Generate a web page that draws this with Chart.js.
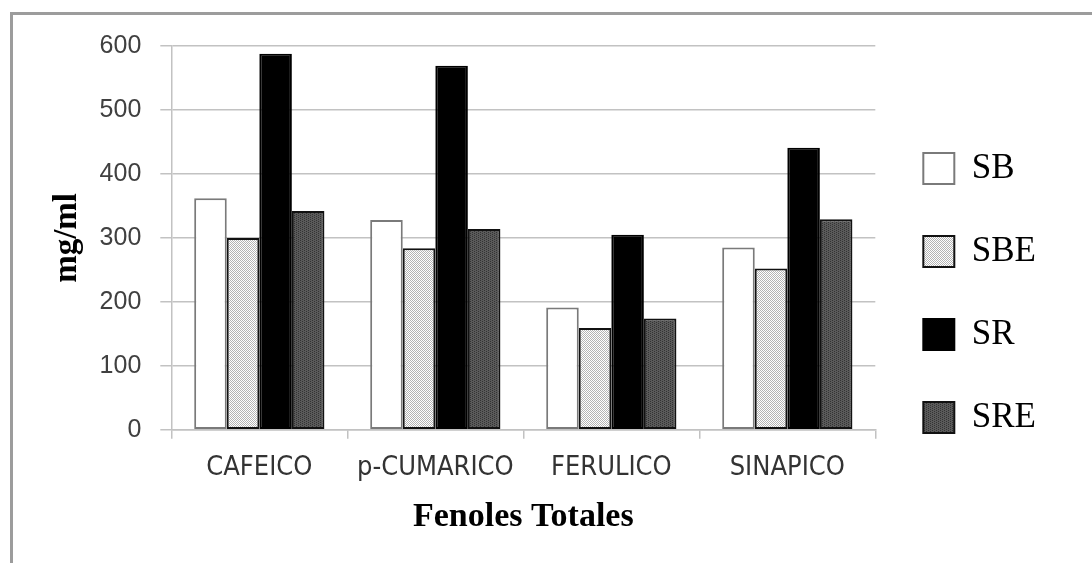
<!DOCTYPE html>
<html>
<head>
<meta charset="utf-8">
<script src="https://cdn.jsdelivr.net/npm/chart.js@4"></script>
<style>
  html, body { margin: 0; padding: 0; background: #fff; overflow: hidden; }
  #wrap { position: relative; width: 1092px; height: 563px; }
  #frame {
    position: absolute; left: 10px; top: 12px; right: 0; bottom: 0;
    border-top: 3px solid #9c9c9c; border-left: 3px solid #9c9c9c;
    pointer-events: none;
  }
  canvas { position: absolute; left: 0; top: 0; }
</style>
</head>
<body>
<div id="wrap">
  <canvas id="myChart" width="1092" height="563"></canvas>
  <div id="frame"></div>
</div>
<script>
// DATA
const categories = ['CAFEICO', 'p-CUMARICO', 'FERULICO', 'SINAPICO'];
const seriesNames = ['SB', 'SBE', 'SR', 'SRE'];
const sbValues = [362, 328, 191, 285];
const sbeValues = [300, 284, 159, 252];
const srValues = [588, 569, 305, 441];
const sreValues = [342, 314, 174, 329];
const yTicks = [0, 100, 200, 300, 400, 500, 600];

// small fill patterns like the office chart hatches
function makePattern(bg, dot, size, dots) {
  const c = document.createElement('canvas');
  c.width = size;
  c.height = size;
  const g = c.getContext('2d');
  g.fillStyle = bg;
  g.fillRect(0, 0, size, size);
  g.fillStyle = dot;
  dots.forEach(function (d) { g.fillRect(d[0], d[1], 1, 1); });
  return document.getElementById('myChart').getContext('2d').createPattern(c, 'repeat');
}
const lightDots = makePattern('#ffffff', '#b4b4b4', 2, [[0, 0], [1, 1]]);
const darkDots = makePattern('#5a5a5a', '#333333', 4, [[0, 0], [0, 2], [2, 1], [2, 3]]);

const fills = ['#ffffff', lightDots, '#000000', darkDots];
const borders = ['#7a7a7a', '#111111', '#000000', '#111111'];
const values = [sbValues, sbeValues, srValues, sreValues];

const datasets = seriesNames.map(function (name, i) {
  return {
    label: name,
    data: values[i],
    backgroundColor: fills[i],
    borderColor: borders[i],
    borderWidth: 2,
    borderSkipped: false,
    categoryPercentage: 0.74,
    barPercentage: 1.0,
  };
});

const serif = '"Liberation Serif", "Times New Roman", serif';

new Chart(document.getElementById('myChart'), {
  type: 'bar',
  data: { labels: categories, datasets: datasets },
  options: {
    responsive: false,
    animation: false,
    devicePixelRatio: 1,
    layout: { padding: { left: 48, top: 46, right: 46, bottom: 14 } },
    plugins: {
      tooltip: { enabled: false },
      legend: {
        position: 'right',
        align: 'center',
        // empty title only nudges the item column up a little
        title: { display: true, text: '', font: { size: 1 }, padding: { top: -5, bottom: -5 } },
        labels: {
          boxWidth: 31,
          boxHeight: 31,
          padding: 48,
          color: '#000',
          font: { family: serif, size: 35 },
        },
      },
    },
    scales: {
      y: {
        min: 0,
        max: 600,
        afterBuildTicks: function (axis) {
          axis.ticks = yTicks.map(function (v) { return { value: v }; });
        },
        grid: { color: '#c2c2c2', lineWidth: 1.5, tickLength: 11 },
        border: { display: true, color: '#c2c2c2', width: 1.5 },
        ticks: {
          padding: 19,
          color: '#404040',
          font: { family: '"Liberation Sans", Arial, sans-serif', size: 25 },
        },
        title: {
          display: true,
          text: 'mg/ml',
          color: '#000',
          padding: { top: 0, bottom: -7 },
          font: { family: serif, size: 33, weight: 'bold' },
        },
      },
      x: {
        grid: {
          offset: true,
          drawOnChartArea: false,
          color: '#c2c2c2',
          lineWidth: 1.5,
          tickLength: 9,
        },
        border: { display: true, color: '#c2c2c2', width: 1.5 },
        ticks: {
          padding: 13,
          color: '#333',
          font: { family: '"Liberation Sans Narrow", "DejaVu Sans Condensed", Arial, sans-serif', size: 27 },
        },
        title: {
          display: true,
          text: 'Fenoles Totales',
          color: '#000',
          padding: { top: 0, bottom: 11 },
          font: { family: serif, size: 34, weight: 'bold' },
        },
      },
    },
  },
});
</script>
</body>
</html>
